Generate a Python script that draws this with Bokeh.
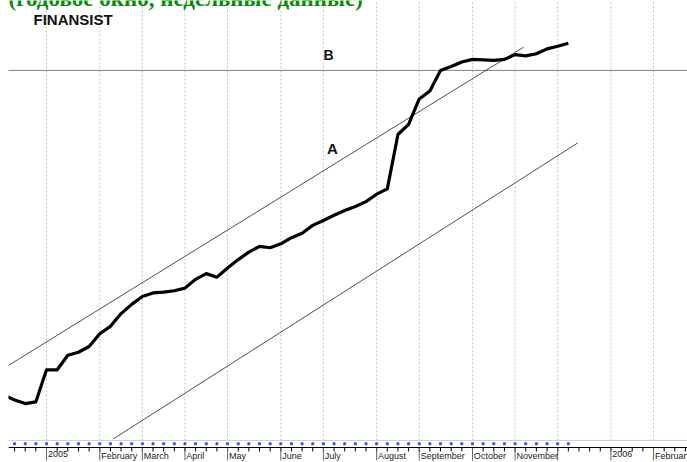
from bokeh.plotting import figure
from bokeh.models import Range1d, Span, Label, ColumnDataSource
from bokeh.core.properties import value
from bokeh.embed import file_html
from bokeh.resources import INLINE

# ---- data (weekly index, week 0 = first week of January 2005) ----
weeks = list(range(-4, 50))
price = [11.9, 10.8, 10.0, 10.4, 17.7, 17.7, 21.0, 21.7, 23.0, 25.9,
         27.6, 30.5, 32.6, 34.4, 35.2, 35.4, 35.7, 36.3, 38.3, 39.6,
         38.8, 40.9, 42.8, 44.5, 45.8, 45.5, 46.4, 47.8, 48.8, 50.6,
         51.7, 52.9, 54.0, 54.9, 56.0, 57.7, 58.9, 71.3, 73.6, 79.4,
         81.2, 85.9, 86.8, 87.8, 88.4, 88.3, 88.2, 88.4, 89.5, 89.2,
         89.7, 90.8, 91.4, 92.1]
dot_level = [0.84] * len(weeks)

month_weeks = [0, 5, 9, 13, 17, 22, 26, 31, 35, 40, 44, 48, 53, 57]
month_labels = ["2005", "February", "March", "April", "May", "June", "July",
                "August", "September", "October", "November", "", "2006", "February"]
all_weeks = list(range(-4, 61))

line_a_x = [-3.57, 44.8]
line_a_y = [18.7, 91.2]
line_c_x = [6.3, 49.9]
line_c_y = [2.0, 69.4]
level_b = 85.9
strip_top = 1.6
y_top = 101.82
y_bottom = -3.42
minor_len = 0.91
major_len = 2.96
label_y = -0.85

p = figure(width=687, height=462, x_range=Range1d(-3.57, 60.19),
           y_range=Range1d(y_bottom, y_top), output_backend="svg",
           toolbar_location=None, min_border_left=8, min_border_right=0,
           min_border_top=0, min_border_bottom=0,
           outline_line_color=None)
p.xgrid.visible = False
p.ygrid.visible = False
p.xaxis.visible = False
p.yaxis.visible = False

# month grid lines
p.segment(x0=month_weeks, y0=[strip_top] * len(month_weeks),
          x1=month_weeks, y1=[y_top] * len(month_weeks),
          line_color="#c4c4c4", line_width=1, line_dash="2 2")

p.add_layout(Span(location=strip_top, dimension="width",
                  line_color="#d0d0d0", line_width=1))
p.add_layout(Span(location=level_b, dimension="width",
                  line_color="black", line_width=1, line_dash="1 1"))

p.line(line_a_x, line_a_y, line_color="#222222", line_width=0.8)
p.line(line_c_x, line_c_y, line_color="#222222", line_width=0.8)

p.line(weeks, price, line_color="black", line_width=3.2, line_join="round")

p.scatter(weeks, dot_level, marker="square", size=2, color="#3b4cf0")

# time axis: axis line, weekly ticks, month ticks and labels
p.add_layout(Span(location=0, dimension="width", line_color="black", line_width=1))
p.segment(x0=all_weeks, y0=[0] * len(all_weeks), x1=all_weeks,
          y1=[-minor_len] * len(all_weeks), line_color="black", line_width=1)
p.segment(x0=month_weeks, y0=[0] * len(month_weeks), x1=month_weeks,
          y1=[-major_len] * len(month_weeks), line_color="#666666", line_width=1)
lab_src = ColumnDataSource(data=dict(x=[w + 0.13 for w in month_weeks],
                                     y=[label_y] * len(month_weeks),
                                     text=month_labels))
p.text(x="x", y="y", text="text", source=lab_src,
       text_font=value("Liberation Sans"), text_font_size=value("9px"),
       text_align="left", text_baseline="top", text_color="#222222")

p.add_layout(Label(x=-1.22, y=97.5, text="FINANSIST", text_font="Liberation Sans",
                   text_font_style="bold", text_font_size="15px",
                   text_baseline="middle", text_color="#111111"))
p.add_layout(Label(x=26.48, y=89.3, text="B", text_font="Liberation Sans",
                   text_font_style="bold", text_font_size="14px",
                   text_baseline="middle", text_align="center", text_color="#111111"))
p.add_layout(Label(x=26.85, y=68.2, text="A", text_font="Liberation Sans",
                   text_font_style="bold", text_font_size="15px",
                   text_baseline="middle", text_align="center", text_color="#111111"))
p.add_layout(Label(x=-3.57, y=102.3, text="(годовое окно, недельные данные)",
                   text_font="Liberation Serif", text_font_style="bold",
                   text_font_size="23px", text_baseline="middle",
                   text_color="#0a8a0a"))

open("out.html", "w").write(file_html(p, INLINE))
